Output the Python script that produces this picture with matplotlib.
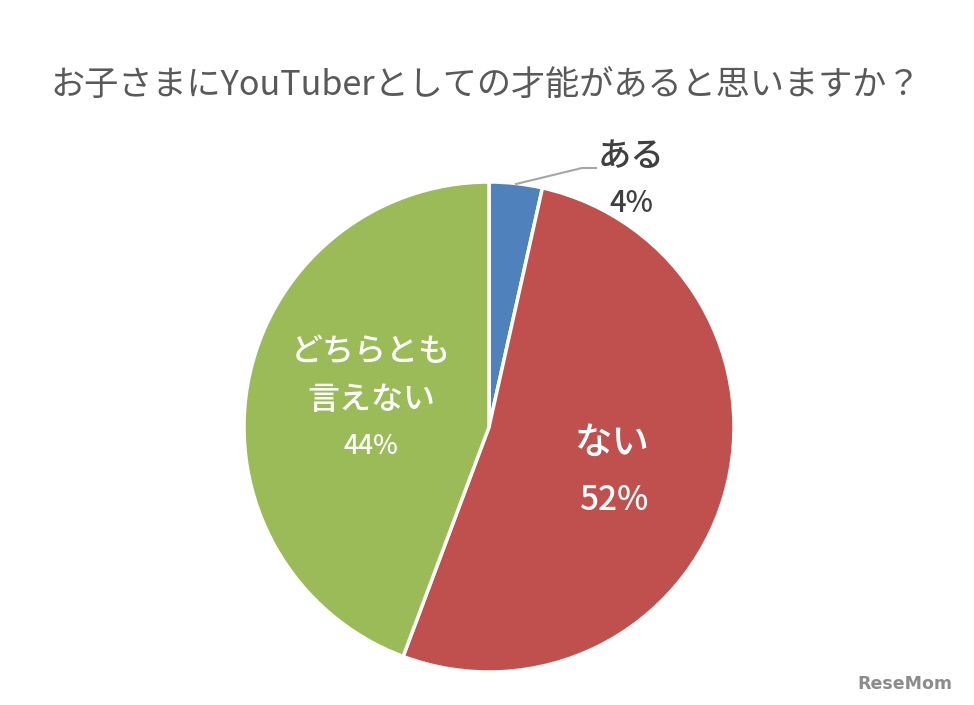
import matplotlib
matplotlib.use("Agg")
import matplotlib.pyplot as plt

plt.rcParams['font.family'] = ['Noto Sans CJK JP', 'DejaVu Sans']

# data
labels = ['ある', 'ない', 'どちらとも', '言えない']
pct_labels = ['4%', '52%', '44%']
values = [3.5, 52.2, 44.3]
colors = ['#4F81BD', '#C0504D', '#9BBB59']

fig = plt.figure(figsize=(9.74, 7.05), dpi=100)
ax = fig.add_axes([0, 0, 1, 1])

cx, cy, r = 489, 705 - 427, 245
ax.pie(values, colors=colors, startangle=90, counterclock=False,
       center=(cx, cy), radius=r, frame=True,
       wedgeprops=dict(edgecolor='white', linewidth=2.5))
ax.set_xlim(0, 974)
ax.set_ylim(0, 705)
ax.set_aspect('equal')
ax.axis('off')

# title
fig.text(0.499, 1 - 85 / 705, 'お子さまにYouTuberとしての才能があると思いますか？',
         ha='center', va='center', fontsize=24.6, color='#595959')

# small slice label outside with leader line
ax.plot([516, 582, 596], [705 - 184, 705 - 168, 705 - 168], color='#A6A6A6', lw=1.5)
ax.text(631, 705 - 157, labels[0], ha='center', va='center', fontsize=24,
        fontweight='medium', color='#404040')
ax.text(631, 705 - 204, pct_labels[0], ha='center', va='center', fontsize=21,
        fontweight='medium', color='#404040')

# inside labels
ax.text(612, 705 - 443, labels[1], ha='center', va='center', fontsize=27,
        fontweight='medium', color='white')
ax.text(614, 705 - 500, pct_labels[1], ha='center', va='center', fontsize=24,
        fontweight='medium', color='white')
ax.text(371, 705 - 352, labels[2], ha='center', va='center', fontsize=23,
        fontweight='medium', color='white')
ax.text(371, 705 - 400, labels[3], ha='center', va='center', fontsize=23,
        fontweight='medium', color='white')
ax.text(371, 705 - 447, pct_labels[2], ha='center', va='center', fontsize=19,
        fontweight='medium', color='white')

# watermark
fig.text(952 / 974, 1 - 684 / 705, 'ReseMom', ha='right', va='center', fontsize=12.5,
         fontweight='bold', color='#8C8C8C', family='DejaVu Sans')

fig.savefig('out.png', dpi=100)
